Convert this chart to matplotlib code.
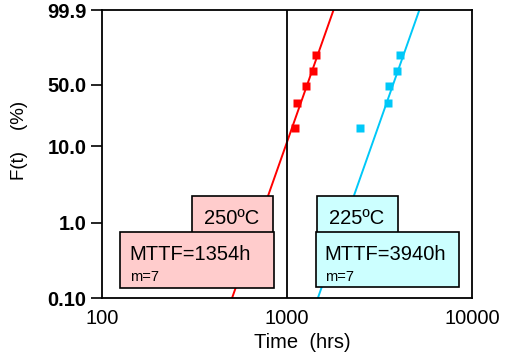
import numpy as np
import matplotlib
matplotlib.use("Agg")
import matplotlib.pyplot as plt
from matplotlib.patches import Rectangle

plt.rcParams['font.family'] = ['Liberation Sans', 'DejaVu Sans']

# Failure data (time in hours, cumulative failure in %)
t_250 = [1108, 1136, 1260, 1380, 1427]
f_250 = [17, 33, 49, 65, 82]
t_225 = [2477, 3532, 3580, 3954, 4086]
f_225 = [17, 33, 49, 65, 82]

# Weibull fit parameters
eta_250, eta_225 = 1354, 3940
shape_m = 7

y_ticks = [0.1, 1.0, 10.0, 50.0, 99.9]
y_ticklabels = ["0.10", "1.0", "10.0", "50.0", "99.9"]
x_ticks = [100, 1000, 10000]
x_ticklabels = ["100", "1000", "10000"]


def weib(p):
    p = np.clip(np.asarray(p, dtype=float), 1e-6, 99.99999) / 100.0
    return np.log(-np.log(1.0 - p))


def weib_inv(w):
    return 100.0 * (1.0 - np.exp(-np.exp(np.asarray(w, dtype=float))))


def weibull_cdf(t, eta, m):
    return 100.0 * (1.0 - np.exp(-(np.asarray(t) / eta) ** m))


W, H = 513, 359
fig = plt.figure(figsize=(W / 100, H / 100), dpi=100)
ax = fig.add_axes([102 / W, 1 - 298 / H, 370 / W, 288 / H])
ax.set_xscale('log')
ax.set_yscale('function', functions=(weib, weib_inv))
ax.set_xlim(100, 10000)
ax.set_ylim(0.1, 99.9)

red, blue = '#ff0000', '#00c8f8'
tt = np.logspace(2, 4, 600)
ax.plot(tt, weibull_cdf(tt, eta_250, shape_m), color=red, lw=1.4)
ax.plot(tt, weibull_cdf(tt, eta_225, shape_m), color=blue, lw=1.4)
ax.plot(t_250, f_250, 's', color=red, ms=6.3, mec='none')
ax.plot(t_225, f_225, 's', color=blue, ms=6.3, mec='none')
ax.axvline(1000, color='black', lw=1.3)

ax.set_yticks(y_ticks)
ax.set_yticklabels(y_ticklabels, fontsize=14.5, fontweight='bold')
ax.set_xticks(x_ticks)
ax.set_xticklabels(x_ticklabels, fontsize=14.5)
ax.minorticks_off()
ax.tick_params(axis='y', direction='out', length=8, width=1.2, pad=3)
ax.tick_params(axis='x', length=0, pad=8)
for s in ax.spines.values():
    s.set_linewidth(1.3)

fig.text(302 / W, 1 - 342 / H, "Time  (hrs)", fontsize=14.5,
         ha='center', va='center')
fig.text(20 / W, 1 - 140 / H, "F(t)    (%)", fontsize=13.5,
         ha='center', va='center', rotation=90)


def box(x0, y0, x1, y1, color):
    r = Rectangle((x0 / W, 1 - y1 / H), (x1 - x0) / W, (y1 - y0) / H,
                  transform=fig.transFigure, facecolor=color,
                  edgecolor='black', lw=1.2, zorder=5)
    fig.add_artist(r)


pink, cyan = '#ffcccc', '#ccffff'
box(192, 196, 273, 233, pink)
box(120, 232, 274, 288, pink)
box(317, 196, 398, 233, cyan)
box(316, 232, 459, 287, cyan)

fig.text(232 / W, 1 - 219 / H, "250ºC", fontsize=14.5, ha='center',
         va='center', zorder=6)
fig.text(357 / W, 1 - 219 / H, "225ºC", fontsize=14.5, ha='center',
         va='center', zorder=6)
fig.text(129 / W, 1 - 254 / H, "MTTF=%dh" % eta_250, fontsize=14.5,
         ha='left', va='center', zorder=6)
fig.text(130 / W, 1 - 277 / H, "m=%d" % shape_m, fontsize=10.5,
         ha='left', va='center', zorder=6)
fig.text(324 / W, 1 - 254 / H, "MTTF=%dh" % eta_225, fontsize=14.5,
         ha='left', va='center', zorder=6)
fig.text(325 / W, 1 - 277 / H, "m=%d" % shape_m, fontsize=10.5,
         ha='left', va='center', zorder=6)

fig.savefig("out.png", dpi=100)
